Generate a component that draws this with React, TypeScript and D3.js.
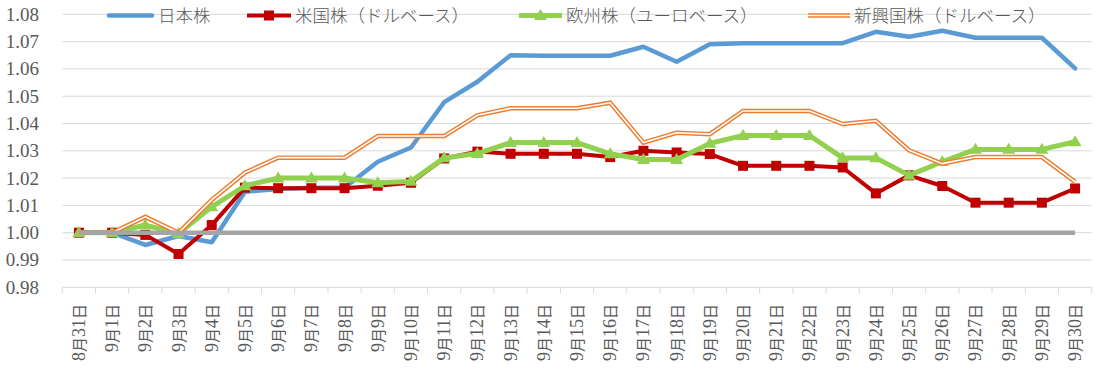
import React from "react";
import * as d3 from "d3";

const categories = [
  "8月31日", "9月1日", "9月2日", "9月3日", "9月4日", "9月5日", "9月6日", "9月7日", "9月8日", "9月9日",
  "9月10日", "9月11日", "9月12日", "9月13日", "9月14日", "9月15日", "9月16日", "9月17日", "9月18日", "9月19日",
  "9月20日", "9月21日", "9月22日", "9月23日", "9月24日", "9月25日", "9月26日", "9月27日", "9月28日", "9月29日", "9月30日",
];

const japan = [
  1.000, 1.000, 0.9955, 0.9988, 0.9965, 1.015, 1.016, 1.0165, 1.0165, 1.026,
  1.0312, 1.0478, 1.0553, 1.065, 1.0648, 1.0648, 1.0648, 1.0681, 1.0626, 1.069,
  1.0694, 1.0694, 1.0694, 1.0694, 1.0736, 1.0718, 1.074, 1.0714, 1.0714, 1.0714, 1.0602,
];

const us = [
  1.000, 1.000, 0.9992, 0.9922, 1.0028, 1.0165, 1.0163, 1.0163, 1.0163, 1.0172,
  1.0183, 1.0272, 1.0297, 1.0289, 1.0289, 1.0289, 1.0277, 1.030, 1.0294, 1.0288,
  1.0245, 1.0245, 1.0245, 1.0239, 1.0144, 1.021, 1.0171, 1.011, 1.011, 1.011, 1.0162,
];

const europe = [
  1.000, 1.000, 1.0028, 0.9997, 1.0095, 1.0172, 1.020, 1.020, 1.020, 1.0183,
  1.0188, 1.0274, 1.029, 1.033, 1.033, 1.033, 1.0289, 1.0268, 1.0268, 1.0327,
  1.0356, 1.0356, 1.0356, 1.0274, 1.0274, 1.021, 1.026, 1.0305, 1.0305, 1.0305, 1.0333,
];

const emerging = [
  1.000, 1.000, 1.0058, 1.000, 1.012, 1.022, 1.0275, 1.0275, 1.0275, 1.0354,
  1.0354, 1.0354, 1.043, 1.0456, 1.0456, 1.0456, 1.0476, 1.033, 1.0366, 1.0361,
  1.0446, 1.0446, 1.0446, 1.0398, 1.041, 1.0302, 1.0253, 1.0277, 1.0277, 1.0277, 1.0186,
];

const baseline = categories.map(() => 1.0);

const yTicks = [0.98, 0.99, 1.0, 1.01, 1.02, 1.03, 1.04, 1.05, 1.06, 1.07, 1.08];

const legendLabels = ["日本株", "米国株（ドルベース）", "欧州株（ユーロベース）", "新興国株（ドルベース）"];

const C_BLUE = "#5B9BD5";
const C_RED = "#C00000";
const C_GREEN = "#92D050";
const C_ORANGE = "#ED7D31";
const C_GRAY = "#A5A5A5";
const C_GRID = "#D9D9D9";
const C_TEXT = "#595959";

const W = 1108;
const H = 372;
const left = 62.3;
const right = 1091.7;
const top = 14.3;
const bottom = 287.3;

const serifFamily = "Liberation Serif";
const jpFamily = "Noto Sans CJK JP";

function tri(cx: number, cy: number, w: number, h: number) {
  return `M${cx},${cy - h * 0.6}L${cx + w / 2},${cy + h * 0.4}L${cx - w / 2},${cy + h * 0.4}Z`;
}

function splitLabel(s: string) {
  return s.match(/[0-9.]+|[^0-9.]+/g) || [s];
}

export default function App() {
  const x = d3.scaleBand<string>().domain(categories).range([left, right]).padding(0);
  const cx = (c: string) => (x(c) as number) + x.bandwidth() / 2;
  const y = d3.scaleLinear().domain([0.98, 1.08]).range([bottom, top]);

  const line = d3
    .line<number>()
    .x((_, i) => cx(categories[i]))
    .y((v) => y(v));

  const bounds = categories.map((c) => x(c) as number).concat([right]);

  const legendY = 15.5;
  const lg = [
    { x0: 109, x1: 152, tx: 158 },
    { x0: 247, x1: 291, tx: 295 },
    { x0: 519, x1: 562, tx: 566 },
    { x0: 808, x1: 850, tx: 854 },
  ];

  return (
    <svg
      width={W}
      height={H}
      style={{ position: "absolute", left: 0, top: 0, background: "#fff" }}
    >
      <rect x={0} y={0} width={W} height={H} fill="#fff" />
      {yTicks.map((t) => (
        <line key={t} x1={left} x2={right} y1={y(t)} y2={y(t)} stroke={C_GRID} strokeWidth={1} />
      ))}
      {bounds.map((b, i) => (
        <line key={i} x1={b} x2={b} y1={bottom} y2={bottom + 6} stroke={C_GRID} strokeWidth={1} />
      ))}
      {yTicks.map((t) => (
        <text
          key={t}
          x={39}
          y={y(t)}
          dy="0.34em"
          textAnchor="end"
          fontFamily={serifFamily}
          fontSize={19}
          fill={C_TEXT}
        >
          {d3.format(".2f")(t)}
        </text>
      ))}
      {categories.map((c) => (
        <text
          key={c}
          transform={`translate(${cx(c) + 6},${304}) rotate(-90)`}
          textAnchor="end"
          fill={C_TEXT}
        >
          {splitLabel(c).map((part, k) =>
            /[0-9]/.test(part) ? (
              <tspan key={k} fontFamily={serifFamily} fontSize={18}>{part}</tspan>
            ) : (
              <tspan key={k} fontFamily={jpFamily} fontSize={15}>{part}</tspan>
            )
          )}
        </text>
      ))}

      <path d={line(japan) as string} fill="none" stroke={C_BLUE} strokeWidth={4.5} strokeLinejoin="round" strokeLinecap="round" />
      <path d={line(us) as string} fill="none" stroke={C_RED} strokeWidth={4} strokeLinejoin="round" />
      {us.map((v, i) => (
        <rect key={i} x={cx(categories[i]) - 5} y={y(v) - 5} width={10} height={10} fill={C_RED} />
      ))}
      <path d={line(europe) as string} fill="none" stroke={C_GREEN} strokeWidth={5} strokeLinejoin="round" />
      {europe.map((v, i) => (
        <path key={i} d={tri(cx(categories[i]), y(v), 13, 11)} fill={C_GREEN} />
      ))}
      <path d={line(emerging) as string} fill="none" stroke={C_ORANGE} strokeWidth={4.5} strokeLinejoin="miter" />
      <path d={line(emerging) as string} fill="none" stroke="#fff" strokeWidth={1.6} strokeLinejoin="miter" />
      <path d={line(baseline) as string} fill="none" stroke={C_GRAY} strokeWidth={4.5} />

      <line x1={lg[0].x0} x2={lg[0].x1} y1={legendY} y2={legendY} stroke={C_BLUE} strokeWidth={4.5} strokeLinecap="round" />
      <line x1={lg[1].x0} x2={lg[1].x1} y1={legendY} y2={legendY} stroke={C_RED} strokeWidth={4} />
      <rect x={(lg[1].x0 + lg[1].x1) / 2 - 5} y={legendY - 5} width={10} height={10} fill={C_RED} />
      <line x1={lg[2].x0} x2={lg[2].x1} y1={legendY} y2={legendY} stroke={C_GREEN} strokeWidth={5} />
      <path d={tri((lg[2].x0 + lg[2].x1) / 2, legendY, 13, 11)} fill={C_GREEN} />
      <line x1={lg[3].x0} x2={lg[3].x1} y1={legendY} y2={legendY} stroke={C_ORANGE} strokeWidth={4.5} />
      <line x1={lg[3].x0} x2={lg[3].x1} y1={legendY} y2={legendY} stroke="#fff" strokeWidth={1.6} />
      {legendLabels.map((l, i) => (
        <text
          key={l}
          x={lg[i].tx}
          y={legendY}
          dy="0.36em"
          fontFamily={jpFamily}
          fontSize={17.5}
          fontWeight={300}
          fill={C_TEXT}
        >
          {l}
        </text>
      ))}
    </svg>
  );
}
